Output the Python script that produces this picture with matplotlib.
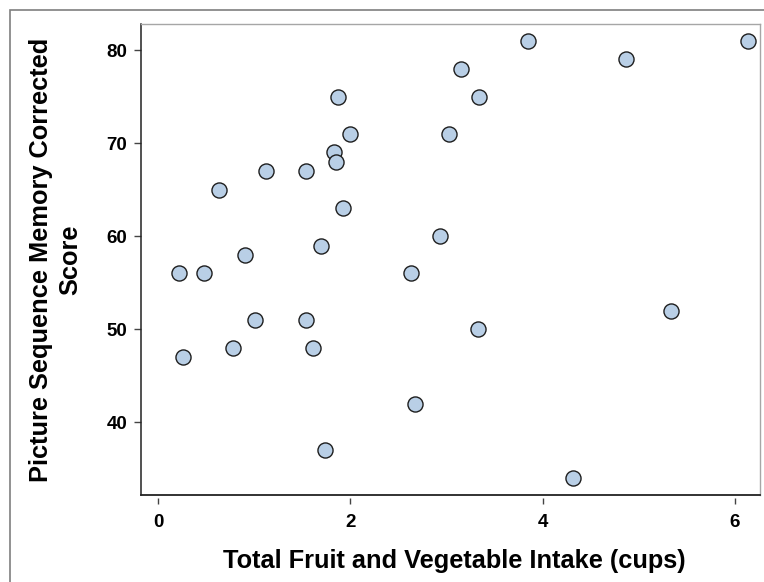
import matplotlib
matplotlib.use("Agg")
import matplotlib.pyplot as plt
from matplotlib.patches import Rectangle

fruit_veg_cups = [0.22, 0.26, 0.48, 0.63, 0.78, 0.90, 1.01, 1.12, 1.54, 1.54,
                  1.61, 1.69, 1.74, 1.83, 1.85, 1.87, 1.92, 2.00, 2.63, 2.67,
                  2.93, 3.03, 3.15, 3.33, 3.34, 3.85, 4.32, 4.87, 5.33, 6.14]
memory_score = [56, 47, 56, 65, 48, 58, 51, 67, 51, 67,
                48, 59, 37, 69, 68, 75, 63, 71, 56, 42,
                60, 71, 78, 50, 75, 81, 34, 79, 52, 81]
x_ticks = [0, 2, 4, 6]
y_ticks = [40, 50, 60, 70, 80]

plt.rcParams['font.family'] = ['Liberation Sans', 'DejaVu Sans']
plt.rcParams['font.weight'] = 'bold'

W, H = 764, 582
fig = plt.figure(figsize=(W / 100, H / 100), dpi=100)
ax = fig.add_axes([141 / W, 1 - 495 / H, (760 - 141) / W, (495 - 24) / H])

# outer frame
fig.patches.append(Rectangle((10 / W, -0.2), 1.5, 1 - 10 / H + 0.2,
                             transform=fig.transFigure, fill=False,
                             edgecolor='#7f7f7f', linewidth=1.2))

ax.scatter(fruit_veg_cups, memory_score, s=118, facecolor='#b9cfe6',
           edgecolor='#1e1e1e', linewidth=1.0, zorder=3)

ax.set_xlim(-0.177, 6.26)
ax.set_ylim(32.2, 82.8)
ax.set_xticks(x_ticks)
ax.set_yticks(y_ticks)

for s in ['top', 'right']:
    ax.spines[s].set_color('#a6a6a6')
    ax.spines[s].set_linewidth(1.0)
ax.spines['left'].set_color('#222222')
ax.spines['left'].set_linewidth(1.1)
ax.spines['bottom'].set_position(('outward', 2.5))
ax.spines['bottom'].set_visible(False)
ax.plot([0, 1], [0, 0], transform=ax.transAxes, color='#222222',
        linewidth=1.3, clip_on=False, zorder=4)

ax.tick_params(axis='x', direction='out', length=4.5, width=1.0,
               color='#444444', pad=7.0, labelsize=13.5)
ax.tick_params(axis='y', direction='out', length=5, width=1.0,
               color='#444444', pad=5, labelsize=13.5)

ax.set_xlabel('Total Fruit and Vegetable Intake (cups)', fontsize=18.3,
              fontweight='bold', va='baseline')
ax.xaxis.set_label_coords((454 - 141) / 619, (495 - 568) / 471)
ax.set_ylabel('Picture Sequence Memory Corrected\nScore', fontsize=18.3,
              fontweight='bold', linespacing=1.28, va='center')
ax.yaxis.set_label_coords((56 - 141) / 619, 0.5)

fig.savefig('out.png', dpi=100)
